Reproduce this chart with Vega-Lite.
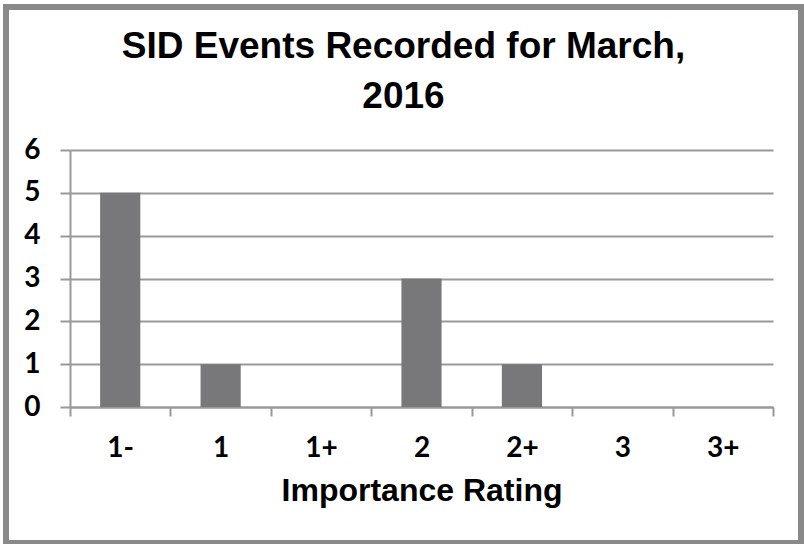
{
  "$schema": "https://vega.github.io/schema/vega-lite/v6.json",
  "width": 795,
  "height": 536,
  "autosize": {"type": "none"},
  "padding": {"left": 6, "top": 7, "right": 3, "bottom": 1},
  "background": "white",
  "config": {
    "view": {"stroke": "#898989", "strokeWidth": 6}
  },
  "title": {
    "text": ["SID Events Recorded for March,", "2016"],
    "font": "Liberation Sans",
    "fontSize": 37,
    "fontWeight": "bold",
    "color": "#000000",
    "anchor": "middle",
    "lineHeight": 50,
    "offset": -109
  },
  "data": {
    "values": [
      {"rating": "1-", "events": 5},
      {"rating": "1", "events": 1},
      {"rating": "1+", "events": 0},
      {"rating": "2", "events": 3},
      {"rating": "2+", "events": 1},
      {"rating": "3", "events": 0},
      {"rating": "3+", "events": 0}
    ]
  },
  "mark": {"type": "bar", "color": "#78787b", "width": {"band": 0.4}},
  "encoding": {
    "x": {
      "field": "rating",
      "type": "nominal",
      "sort": ["1-", "1", "1+", "2", "2+", "3", "3+"],
      "scale": {"range": [64, 767], "paddingInner": 0, "paddingOuter": 0},
      "axis": {
        "title": "Importance Rating",
        "titleFont": "Liberation Sans",
        "titleFontSize": 32,
        "titleFontWeight": "bold",
        "titleColor": "#000000",
        "titlePadding": 13,
        "labelFont": "Lato",
        "labelFontSize": 28,
        "labelFontWeight": "bold",
        "labelColor": "#000000",
        "labelAngle": 0,
        "labelPadding": 18,
        "tickBand": "extent",
        "tickSize": 9,
        "tickColor": "#999999",
        "tickWidth": 2,
        "domainColor": "#999999",
        "domainWidth": 2,
        "grid": false,
        "offset": -136
      }
    },
    "y": {
      "field": "events",
      "type": "quantitative",
      "scale": {"domain": [0, 6], "range": [400, 143], "nice": false},
      "axis": {
        "title": null,
        "values": [0, 1, 2, 3, 4, 5, 6],
        "labelFont": "Lato",
        "labelFontSize": 28,
        "labelFontWeight": "bold",
        "labelColor": "#000000",
        "labelPadding": 20,
        "tickSize": 10,
        "tickColor": "#999999",
        "tickWidth": 2,
        "domainColor": "#999999",
        "domainWidth": 2,
        "grid": true,
        "gridColor": "#999999",
        "gridWidth": 2,
        "offset": -64
      }
    }
  }
}
